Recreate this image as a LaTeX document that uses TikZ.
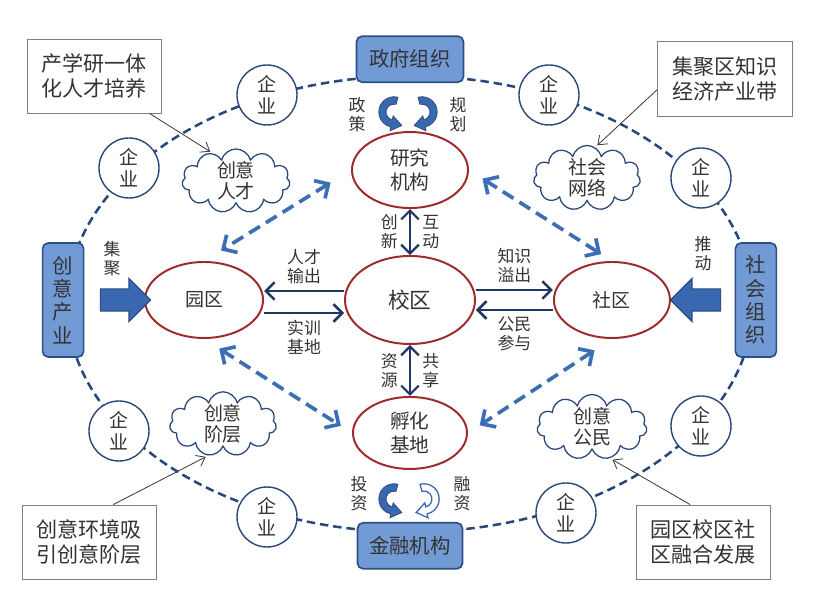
\documentclass[tikz,border=0pt]{standalone}
\usepackage{fontspec}
\setmainfont{Noto Sans CJK SC}
\usetikzlibrary{arrows.meta}
\usetikzlibrary{positioning, shapes.geometric, shapes.symbols, shapes.arrows}

\definecolor{boxblue}{RGB}{114,155,214}
\definecolor{edgeblue}{RGB}{45,78,135}
\definecolor{arrowblue}{RGB}{58,104,176}
\definecolor{dashblue}{RGB}{60,110,182}
\definecolor{navy}{RGB}{31,56,100}
\definecolor{zonered}{RGB}{158,42,43}
\definecolor{ringblue}{RGB}{40,72,122}

\tikzset{
  pics/turn_arrow/.style={code={
    \path[pic actions] (75:0.38) arc[start angle=75, end angle=258, radius=0.38]
      -- (258:0.48) -- ([shift={(348:0.26)}]258:0.29) -- (258:0.10)
      -- (258:0.2) arc[start angle=258, end angle=75, radius=0.2] -- cycle;
  }}
}

\begin{document}
\begin{tikzpicture}[
        font=\fontsize{12pt}{13.5pt}\selectfont,
        text=black!80,
        >={Straight Barb[length=2.2mm, width=4.4mm]},
        zone/.style={ellipse, draw=zonered, line width=1.4pt, fill=white, inner sep=0pt, align=center, font=\fontsize{14pt}{17pt}\selectfont},
        org_box/.style={rectangle, rounded corners=4pt, draw=edgeblue, line width=1.2pt, fill=boxblue, inner sep=0pt, align=center, font=\fontsize{14.5pt}{16.5pt}\selectfont},
        firm/.style={circle, draw=ringblue, line width=1pt, fill=white, minimum size=1.5cm, inner sep=0pt, align=center, font=\fontsize{13.5pt}{15.5pt}\selectfont},
        idea_cloud/.style={cloud, cloud puffs=11, cloud ignores aspect, draw=ringblue, line width=0.9pt, fill=white, inner sep=0pt, align=center, font=\fontsize{13.5pt}{15pt}\selectfont},
        note/.style={rectangle, draw=black!50, line width=0.6pt, fill=white, minimum width=3.35cm, minimum height=1.85cm, align=center, font=\fontsize{15pt}{17.5pt}\selectfont},
        tag/.style={align=center, inner sep=0pt},
        flow_arrow/.style={->, line width=1.8pt, draw=navy},
        both_arrow/.style={<->, line width=1.6pt, draw=navy},
        dash_arrow/.style={<->, >={Straight Barb[length=2.6mm, width=5.2mm]}, line width=2.6pt, draw=dashblue, dash pattern=on 9pt off 5pt},
        ring_line/.style={draw=ringblue, line width=1.8pt, dash pattern=on 6pt off 3.5pt},
        note_arrow/.style={-{Straight Barb[length=2mm, width=3mm]}, line width=0.6pt, draw=black!75, shorten >=2pt},
        block_arrow/.style={single arrow, draw=edgeblue, fill=arrowblue, line width=0.8pt, inner xsep=0pt, inner ysep=0.2625cm, minimum height=1.25cm, single arrow head extend=0.2625cm}
    ]

    % Canvas
    \fill[white] (-10.25,-7.55) rectangle (10.675,7.5);
    \useasboundingbox (-10.25,-7.55) rectangle (10.675,7.5);

    % Outer ring of firms
    \draw[ring_line] (0,-0.1) ellipse [x radius=8.575, y radius=5.7];

    % Central zones
    \node[zone, minimum width=3.25cm, minimum height=2.2cm, font=\fontsize{15.5pt}{18pt}\selectfont] (campus) at (0,0) {校区};
    \node[zone, minimum width=2.9cm, minimum height=1.9cm, above=1.15cm of campus] (institute) {研究\\机构};
    \node[zone, minimum width=2.85cm, minimum height=1.8cm, below=1.275cm of campus] (incubator) {孵化\\基地};
    \node[zone, minimum width=2.95cm, minimum height=1.9cm, left=2cm of campus, font=\fontsize{13.5pt}{16pt}\selectfont] (park) {园区};
    \node[zone, minimum width=2.9cm, minimum height=1.9cm, right=1.925cm of campus, font=\fontsize{13.5pt}{16pt}\selectfont] (community) {社区};

    % Organisations on the ring
    \node[org_box, minimum width=2.675cm, minimum height=1.15cm, above=1.2cm of institute] (gov_box) {政府组织};
    \node[org_box, minimum width=2.625cm, minimum height=1.15cm, below=1.3cm of incubator] (finance_box) {金融机构};
    \node[org_box, minimum width=1.025cm, minimum height=2.85cm, left=1.49cm of park] (industry_box) {创\\意\\产\\业};
    \node[org_box, minimum width=1.025cm, minimum height=2.85cm, right=1.59cm of community] (society_box) {社\\会\\组\\织};

    % Firms
    \node[firm] (firm_a) at (-3.575,5.125) {企\\业};
    \node[firm] (firm_b) at (-7.025,3.3) {企\\业};
    \node[firm] (firm_c) at (3.475,5.125) {企\\业};
    \node[firm] (firm_d) at (7.275,3.05) {企\\业};
    \node[firm] (firm_e) at (-7.275,-3.275) {企\\业};
    \node[firm] (firm_f) at (-3.575,-5.425) {企\\业};
    \node[firm] (firm_g) at (3.9,-5.325) {企\\业};
    \node[firm] (firm_h) at (7.275,-3.15) {企\\业};

    % Clouds
    \node[idea_cloud, minimum width=2.7cm, minimum height=1.575cm] (cloud_talent) at (-4.35,2.975) {创意\\人才};
    \node[idea_cloud, minimum width=2.675cm, minimum height=1.625cm] (cloud_network) at (4.425,3.05) {社会\\网络};
    \node[idea_cloud, minimum width=2.675cm, minimum height=1.55cm] (cloud_class) at (-4.675,-3.1) {创意\\阶层};
    \node[idea_cloud, minimum width=2.75cm, minimum height=1.625cm] (cloud_citizen) at (4.55,-3.175) {创意\\公民};

    % Notes
    \node[note] (note_talent) at (-7.9,5.6) {产学研一体\\化人才培养};
    \node[note, minimum width=3.375cm, minimum height=1.875cm] (note_belt) at (7.875,5.525) {集聚区知识\\经济产业带};
    \node[note] (note_class) at (-8.025,-6.05) {创意环境吸\\引创意阶层};
    \node[note] (note_merge) at (7.325,-6.05) {园区校区社\\区融合发展};

    % Note arrows
    \draw[note_arrow] (note_talent.-34) -- (cloud_talent.130);
    \draw[note_arrow] (note_belt.189) -- (cloud_network.75);
    \draw[note_arrow] (note_class.57) -- (cloud_class.245);
    \draw[note_arrow] (note_merge.109) -- (cloud_citizen.300);

    % Arrows between campus and park / community
    \draw[flow_arrow] ([yshift=0.225cm]campus.west) -- node[above=4pt, tag] {人才\\输出} ([yshift=0.225cm]park.east);
    \draw[flow_arrow] ([yshift=-0.325cm]park.east) -- node[below=4pt, tag] {实训\\基地} ([yshift=-0.325cm]campus.west);
    \draw[flow_arrow] ([yshift=0.25cm]campus.east) -- node[above=4pt, tag] {知识\\溢出} ([yshift=0.25cm]community.west);
    \draw[flow_arrow] ([yshift=-0.25cm]community.west) -- node[below=4pt, tag] {公民\\参与} ([yshift=-0.25cm]campus.east);

    % Vertical arrows
    \draw[both_arrow] (institute) -- node[left=8pt, tag] {创\\新} node[right=8pt, tag] {互\\动} (campus);
    \draw[both_arrow] (campus) -- node[left=8pt, tag] {资\\源} node[right=8pt, tag] {共\\享} (incubator);

    % Dashed links
    \draw[dash_arrow, shorten <=0.6cm, shorten >=0.5cm] (institute.west) -- (park.north);
    \draw[dash_arrow, shorten <=0.4cm, shorten >=0.32cm] (institute.east) -- (community.north);
    \draw[dash_arrow, shorten <=0.45cm, shorten >=0.33cm] (park.south) -- (incubator.west);
    \draw[dash_arrow, shorten <=0.52cm, shorten >=0.35cm] (community.south) -- (incubator.east);

    % Block arrows
    \node[block_arrow] (gather_arrow) at (-7.25,0) {};
    \node[block_arrow, shape border rotate=180] (push_arrow) at (7.275,0) {};
    \node[tag] at (-7.45,1.025) {集\\聚};
    \node[tag] at (7.325,1.15) {推\\动};

    % Turning arrows
    \pic[fill=arrowblue, draw=edgeblue, line width=0.6pt] at (-0.4,4.7) {turn_arrow};
    \pic[xscale=-1, fill=arrowblue, draw=edgeblue, line width=0.6pt] at (0.3,4.7) {turn_arrow};
    \pic[fill=arrowblue, draw=edgeblue, line width=0.6pt] at (-0.4,-4.975) {turn_arrow};
    \pic[xscale=-1, fill=white, draw=arrowblue, line width=0.9pt] at (0.35,-4.975) {turn_arrow};
    \node[tag] at (-1.325,4.625) {政\\策};
    \node[tag] at (1.2,4.625) {规\\划};
    \node[tag] at (-1.275,-4.85) {投\\资};
    \node[tag] at (1.3,-4.85) {融\\资};

\end{tikzpicture}
\end{document}
